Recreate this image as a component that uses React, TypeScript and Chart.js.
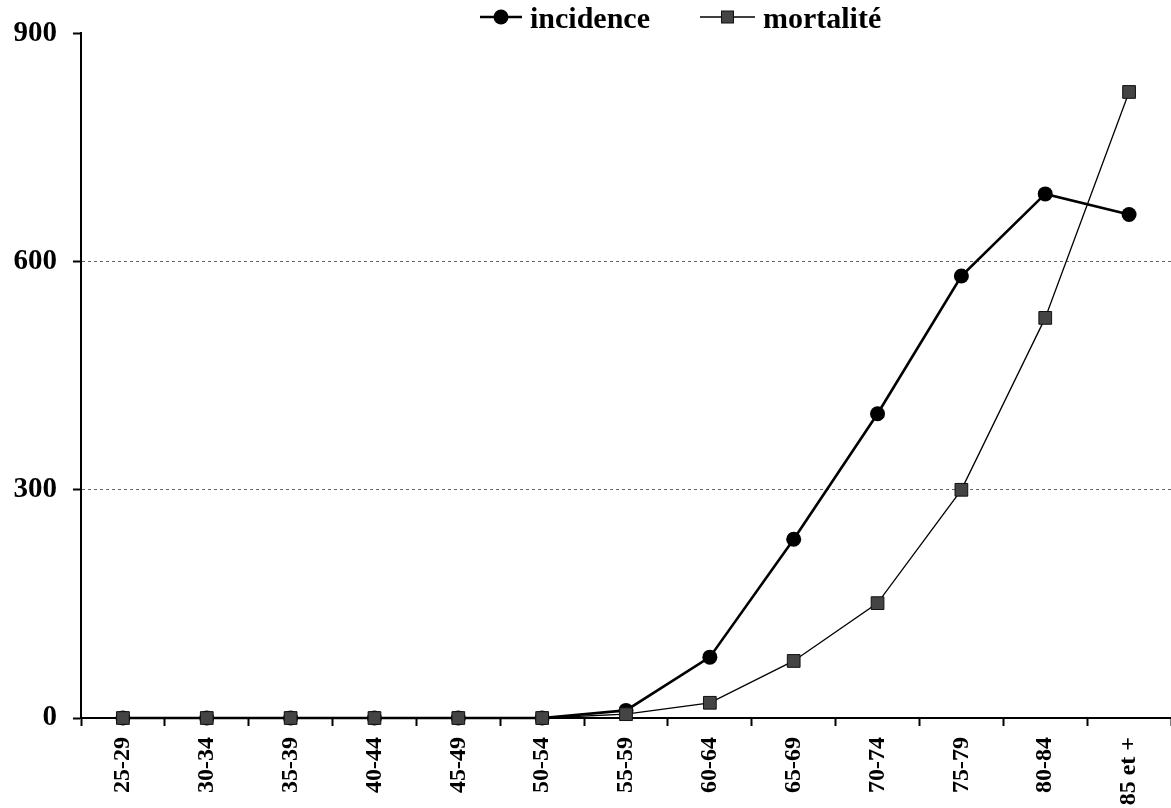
import React, { useEffect, useRef } from "react";
import { Chart, registerables } from "chart.js";

Chart.register(...registerables);

const categories = ["25-29", "30-34", "35-39", "40-44", "45-49", "50-54", "55-59", "60-64", "65-69", "70-74", "75-79", "80-84", "85 et +"];
const incidence = [0, 0, 0, 0, 0, 0, 10, 80, 235, 400, 581, 689, 662];
const mortalite = [0, 0, 0, 0, 0, 0, 5, 20, 75, 151, 300, 526, 823];
const yTickValues = [0, 300, 600, 900];
const seriesNames = ["incidence", "mortalité"];

const FONT = "'Liberation Serif', 'Times New Roman', serif";

const legendPlugin = {
  id: "lineMarkerLegend",
  afterDraw(chart: any) {
    const ctx = chart.ctx as CanvasRenderingContext2D;
    ctx.save();
    ctx.font = `bold 30px ${FONT}`;
    ctx.textBaseline = "alphabetic";
    const lineY = 17;
    const baseY = 28;
    let x = 480;
    const entries = [
      { ds: chart.data.datasets[1], lineLen: 42, gapAfter: 50 },
      { ds: chart.data.datasets[0], lineLen: 55, gapAfter: 0 },
    ];
    entries.forEach((e) => {
      const ds = e.ds;
      ctx.strokeStyle = "#000";
      ctx.lineWidth = ds.borderWidth;
      ctx.beginPath();
      ctx.moveTo(x, lineY);
      ctx.lineTo(x + e.lineLen, lineY);
      ctx.stroke();
      const mx = x + e.lineLen / 2;
      if (ds.pointStyle === "circle") {
        ctx.fillStyle = ds.pointBackgroundColor;
        ctx.beginPath();
        ctx.arc(mx, lineY, 7.5, 0, Math.PI * 2);
        ctx.fill();
      } else {
        ctx.fillStyle = ds.pointBackgroundColor;
        ctx.fillRect(mx - 6, lineY - 6, 12, 12);
        ctx.lineWidth = 1;
        ctx.strokeStyle = ds.pointBorderColor;
        ctx.strokeRect(mx - 6, lineY - 6, 12, 12);
      }
      ctx.fillStyle = "#000";
      const tx = x + e.lineLen + 8;
      ctx.fillText(ds.label, tx, baseY);
      x = tx + ctx.measureText(ds.label).width + e.gapAfter;
    });
    ctx.restore();
  },
};

export default function App() {
  const ref = useRef<HTMLCanvasElement | null>(null);

  useEffect(() => {
    if (!ref.current) return;
    const chart = new Chart(ref.current, {
      type: "line",
      data: {
        labels: categories,
        datasets: [
          {
            label: seriesNames[1],
            data: mortalite,
            borderColor: "#000",
            borderWidth: 1.3,
            pointStyle: "rect",
            pointRadius: 9,
            pointBackgroundColor: "#444",
            pointBorderColor: "#111",
            pointBorderWidth: 1,
            tension: 0,
            order: 0,
            clip: false,
          },
          {
            label: seriesNames[0],
            data: incidence,
            borderColor: "#000",
            borderWidth: 2.6,
            pointStyle: "circle",
            pointRadius: 7.5,
            pointBackgroundColor: "#000",
            pointBorderColor: "#000",
            pointBorderWidth: 0,
            tension: 0,
            order: 1,
            clip: false,
          },
        ],
      },
      options: {
        animation: false,
        responsive: true,
        maintainAspectRatio: false,
        layout: { autoPadding: false, padding: { top: 32, left: 0, right: 0, bottom: 0 } },
        plugins: {
          legend: { display: false },
          tooltip: { enabled: false },
        },
        scales: {
          x: {
            offset: true,
            afterFit: (scale: any) => {
              scale.height = 90;
              scale.paddingLeft = 0;
              scale.paddingRight = 0;
            },
            grid: {
              offset: true,
              drawOnChartArea: false,
              drawTicks: true,
              tickLength: 8,
              tickColor: "#000",
              tickWidth: 2,
            },
            border: { display: true, color: "#000", width: 2 },
            ticks: {
              minRotation: 90,
              maxRotation: 90,
              padding: 11,
              color: "#000",
              font: { family: FONT, size: 24, weight: "bold" },
            },
          },
          y: {
            min: 0,
            max: 900,
            afterFit: (scale: any) => {
              scale.width = 81;
            },
            afterBuildTicks: (scale: any) => {
              scale.ticks = yTickValues.map((v) => ({ value: v }));
            },
            grid: {
              drawOnChartArea: true,
              color: (c: any) => (c.tick && (c.tick.value === 300 || c.tick.value === 600) ? "#666" : "rgba(0,0,0,0)"),
              lineWidth: 1,
              tickLength: 8,
              tickColor: "#000",
              tickWidth: 2,
              tickBorderDash: [],
            },
            border: { display: true, color: "#000", width: 2, dash: [3, 3] },
            ticks: {
              padding: 16,
              color: "#000",
              font: { family: FONT, size: 29, weight: "bold" },
            },
          },
        },
      },
      plugins: [legendPlugin],
    });
    return () => chart.destroy();
  }, []);

  return (
    <div style={{ position: "absolute", left: 0, top: 0, width: 1171, height: 808, background: "#fff" }}>
      <canvas ref={ref} />
    </div>
  );
}
